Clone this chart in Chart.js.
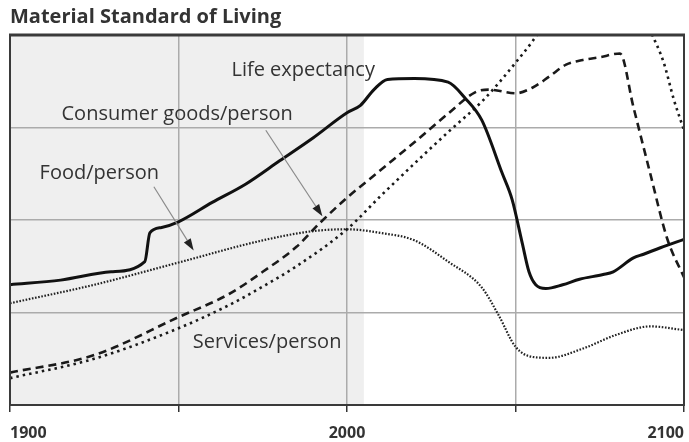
<!DOCTYPE html>
<html>
<head>
<meta charset="utf-8">
<script src="https://cdn.jsdelivr.net/npm/chart.js@4"></script>
<style>
  html, body { margin: 0; padding: 0; background: #ffffff; }
  #wrap { width: 689px; height: 442px; }
</style>
</head>
<body>
<div id="wrap"><canvas id="c" width="689" height="442"></canvas></div>
<script>
// ---- Data ----
const lifeYears  = [1900, 1915, 1930, 1940, 1941.5, 1945, 1950, 1960, 1970, 1980, 1990, 2000, 2004, 2008, 2012, 2020, 2030, 2035, 2040, 2046, 2049, 2052, 2054, 2056, 2059, 2064, 2069, 2076, 2079, 2085, 2088, 2093, 2100];
const lifeValues = [1.30, 1.35, 1.44, 1.55, 1.86, 1.92, 1.98, 2.19, 2.39, 2.64, 2.89, 3.16, 3.24, 3.41, 3.52, 3.53, 3.49, 3.32, 3.08, 2.51, 2.22, 1.75, 1.44, 1.30, 1.26, 1.30, 1.36, 1.41, 1.44, 1.59, 1.63, 1.70, 1.79];

const goodsYears  = [1900, 1925, 1950, 1965, 1975, 1985, 1992, 2000, 2010, 2020, 2030, 2038, 2042, 2050, 2055, 2060, 2065, 2070, 2075, 2081, 2085, 2090, 2095, 2100];
const goodsValues = [0.35, 0.54, 0.95, 1.20, 1.44, 1.71, 1.97, 2.24, 2.54, 2.84, 3.15, 3.38, 3.41, 3.37, 3.43, 3.55, 3.68, 3.73, 3.76, 3.80, 3.22, 2.50, 1.80, 1.38];

const foodYears  = [1900, 1925, 1950, 1975, 1990, 2000, 2010, 2020, 2030, 2040, 2045, 2050, 2055, 2060, 2070, 2080, 2090, 2100];
const foodValues = [1.10, 1.30, 1.54, 1.78, 1.88, 1.90, 1.86, 1.78, 1.55, 1.27, 0.97, 0.63, 0.52, 0.51, 0.61, 0.76, 0.85, 0.81];

const servYears  = [1900, 1925, 1950, 1965, 1975, 1985, 2000, 2010, 2020, 2030, 2040, 2045, 2050, 2055, 2060, 2070, 2078, 2085, 2090, 2094, 2097, 2100];
const servValues = [0.29, 0.50, 0.83, 1.08, 1.28, 1.50, 1.90, 2.26, 2.61, 2.95, 3.28, 3.48, 3.70, 3.93, 4.20, 4.70, 4.85, 4.50, 4.05, 3.70, 3.30, 2.97];

const seriesNames = ['Life expectancy', 'Consumer goods/person', 'Food/person', 'Services/person'];
const xTickLabels = ['1900', '2000', '2100'];
const chartTitle = 'Material Standard of Living';
const historicalEnd = 2005; // end of the grey "historical" band

function pts(xs, ys) { return xs.map((x, i) => ({ x: x, y: ys[i] })); }

// ---- Annotation placement (in data units) ----
const labelSpots = [
  { text: seriesNames[0], x: 1987.0, y: 3.62 },
  { text: seriesNames[1], x: 1949.6, y: 3.14 },
  { text: seriesNames[2], x: 1926.5, y: 2.51 },
  { text: seriesNames[3], x: 1976.3, y: 0.68 }
];
const arrows = [
  { from: { x: 1975.9, y: 2.97 }, to: { x: 1992.7, y: 2.04 } },
  { from: { x: 1942.7, y: 2.36 }, to: { x: 1954.5, y: 1.67 } }
];

Chart.defaults.font.family = "'Open Sans', 'DejaVu Sans', sans-serif";

const shadePlugin = {
  id: 'shade',
  beforeDraw(chart) {
    const { ctx, chartArea, scales } = chart;
    const x0 = scales.x.getPixelForValue(1900);
    const x1 = scales.x.getPixelForValue(historicalEnd);
    ctx.save();
    ctx.fillStyle = '#efefef';
    ctx.fillRect(x0, chartArea.top, x1 - x0, chartArea.bottom - chartArea.top);
    ctx.restore();
  }
};

const framePlugin = {
  id: 'frame',
  afterDatasetsDraw(chart) {
    const { ctx, chartArea, scales } = chart;
    ctx.save();
    ctx.fillStyle = '#333333';
    ctx.font = "20px 'Open Sans'";
    ctx.textAlign = 'center';
    ctx.textBaseline = 'middle';
    labelSpots.forEach(l => {
      ctx.fillText(l.text, scales.x.getPixelForValue(l.x), scales.y.getPixelForValue(l.y));
    });
    arrows.forEach(a => {
      const fx = scales.x.getPixelForValue(a.from.x), fy = scales.y.getPixelForValue(a.from.y);
      const tx = scales.x.getPixelForValue(a.to.x), ty = scales.y.getPixelForValue(a.to.y);
      const ang = Math.atan2(ty - fy, tx - fx);
      const len = 12, half = 4;
      const bx = tx - len * Math.cos(ang), by = ty - len * Math.sin(ang);
      ctx.strokeStyle = '#8a8a8a';
      ctx.lineWidth = 1.2;
      ctx.beginPath();
      ctx.moveTo(fx, fy);
      ctx.lineTo(bx, by);
      ctx.stroke();
      ctx.fillStyle = '#222222';
      ctx.beginPath();
      ctx.moveTo(tx, ty);
      ctx.lineTo(bx + half * Math.sin(ang), by - half * Math.cos(ang));
      ctx.lineTo(bx - half * Math.sin(ang), by + half * Math.cos(ang));
      ctx.closePath();
      ctx.fill();
    });
    ctx.strokeStyle = '#3a3a3a';
    ctx.lineWidth = 2;
    ctx.strokeRect(chartArea.left, chartArea.top, chartArea.right - chartArea.left, chartArea.bottom - chartArea.top);
    ctx.beginPath();
    ctx.lineWidth = 3;
    ctx.moveTo(chartArea.left - 1, chartArea.top);
    ctx.lineTo(chartArea.right + 1, chartArea.top);
    ctx.stroke();
    ctx.restore();
  }
};

new Chart(document.getElementById('c'), {
  type: 'line',
  data: {
    datasets: [
      { label: seriesNames[0], data: pts(lifeYears, lifeValues), borderColor: '#111111', borderWidth: 3, borderJoinStyle: 'round', cubicInterpolationMode: 'monotone' },
      { label: seriesNames[1], data: pts(goodsYears, goodsValues), borderColor: '#1a1a1a', borderWidth: 2.6, borderDash: [8, 5], cubicInterpolationMode: 'monotone' },
      { label: seriesNames[2], data: pts(foodYears, foodValues), borderColor: '#222222', borderWidth: 2.2, borderDash: [1.6, 1.6], cubicInterpolationMode: 'monotone' },
      { label: seriesNames[3], data: pts(servYears, servValues), borderColor: '#1a1a1a', borderWidth: 2.6, borderDash: [2.5, 4], cubicInterpolationMode: 'monotone' }
    ]
  },
  options: {
    responsive: false,
    animation: false,
    devicePixelRatio: 1,
    elements: { point: { radius: 0 } },
    layout: { padding: { left: 10, right: 5, top: 0, bottom: 2 } },
    plugins: {
      legend: { display: false },
      tooltip: { enabled: false },
      title: {
        display: true,
        text: chartTitle,
        align: 'start',
        color: '#333333',
        font: { size: 20, weight: 'bold' },
        padding: { top: 5, bottom: 6 }
      }
    },
    scales: {
      x: {
        type: 'linear',
        min: 1900,
        max: 2100,
        afterFit: (scale) => { scale.height = 35; scale.paddingLeft = 0; scale.paddingRight = 0; },
        ticks: {
          stepSize: 50,
          autoSkip: false,
          maxRotation: 0,
          align: 'inner',
          padding: 12,
          color: '#333333',
          font: { size: 16, weight: 'bold' },
          callback: v => (xTickLabels.includes(String(v)) ? String(v) : '')
        },
        grid: { color: '#ababab', lineWidth: 1.5, tickColor: '#333333', tickLength: 7 },
        border: { color: '#3a3a3a', width: 2 }
      },
      y: {
        min: 0,
        max: 4,
        ticks: { display: false, stepSize: 1 },
        grid: { color: '#ababab', lineWidth: 1.5, drawTicks: false },
        border: { color: '#3a3a3a', width: 2 }
      }
    }
  },
  plugins: [shadePlugin, framePlugin]
});
</script>
</body>
</html>
